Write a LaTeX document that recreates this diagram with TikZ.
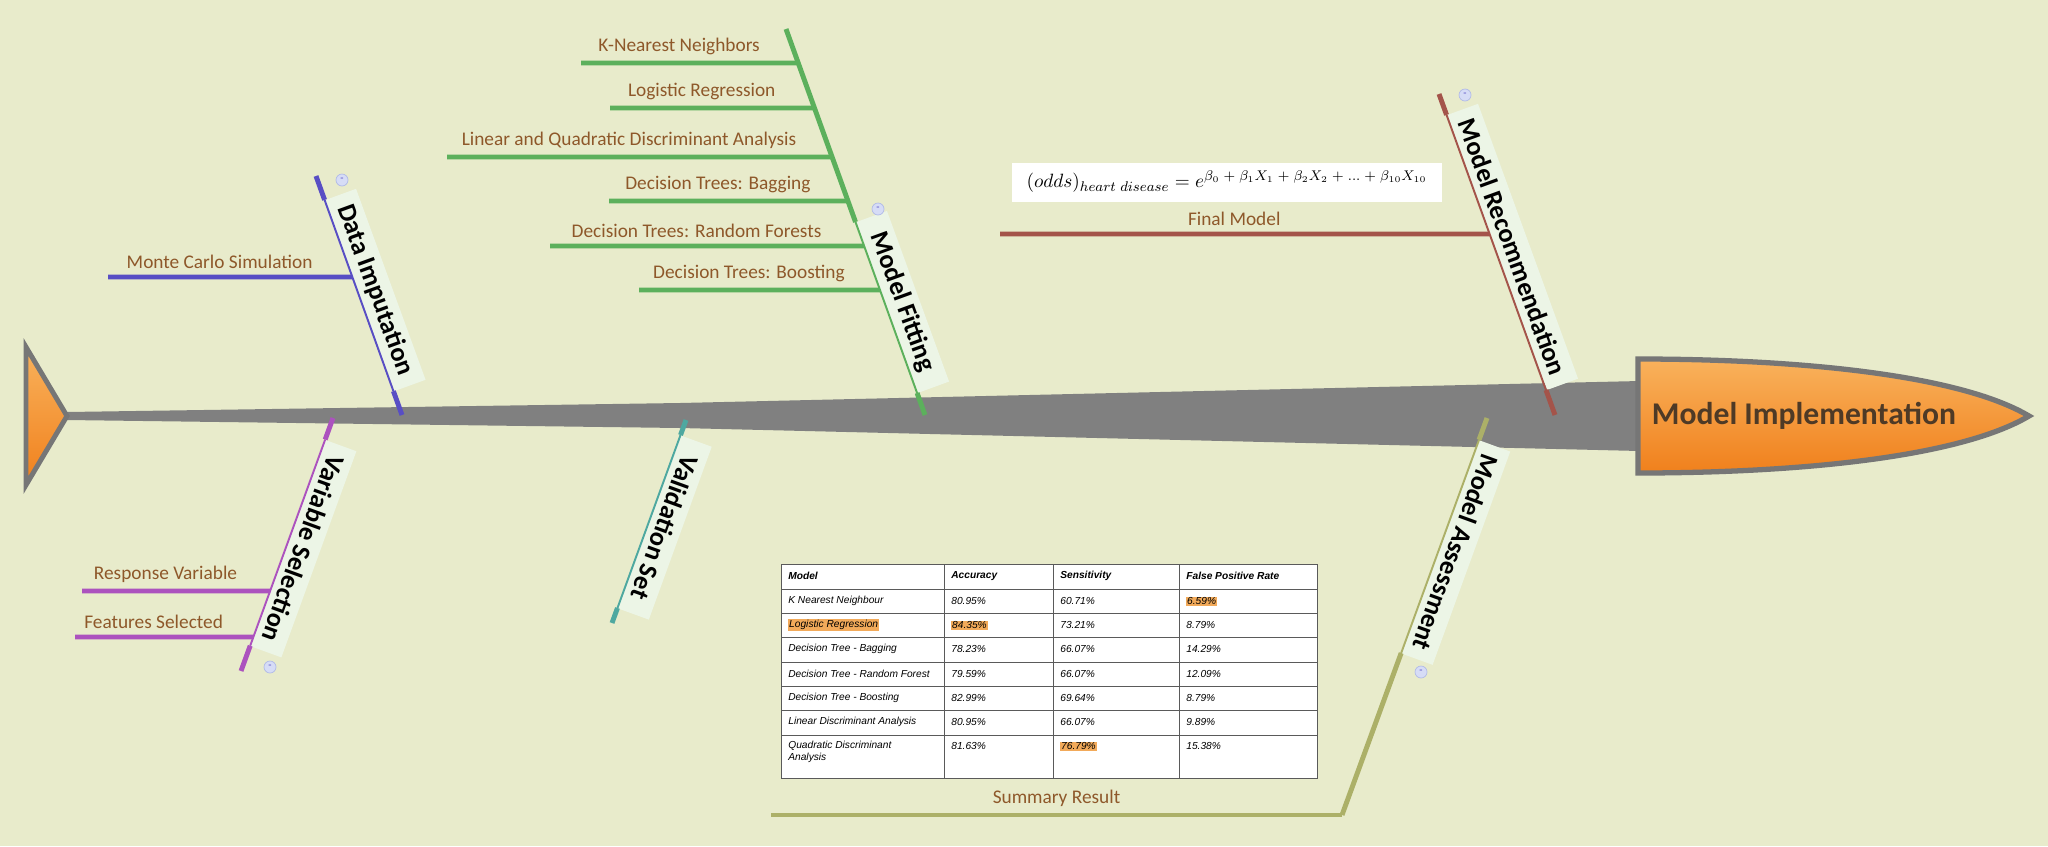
\documentclass[tikz,border=0pt]{standalone}
\usepackage[no-math]{fontspec}
\setmainfont{Carlito}
\newfontfamily\tablefont{Liberation Sans}
\usetikzlibrary{calc}

\definecolor{paper}{RGB}{232,235,203}
\definecolor{spine}{RGB}{128,128,128}
\definecolor{headgray}{RGB}{118,118,118}
\definecolor{headtop}{RGB}{249,178,92}
\definecolor{fishorange}{RGB}{240,128,28}
\definecolor{implement}{RGB}{78,58,38}
\definecolor{dataimp}{RGB}{88,78,196}
\definecolor{varsel}{RGB}{172,82,190}
\definecolor{modfit}{RGB}{92,176,92}
\definecolor{valset}{RGB}{78,168,160}
\definecolor{modrec}{RGB}{164,84,74}
\definecolor{modass}{RGB}{172,176,104}
\definecolor{leaftext}{RGB}{142,88,42}
\definecolor{tag}{RGB}{236,245,230}
\definecolor{knobfill}{RGB}{214,220,246}
\definecolor{knobline}{RGB}{176,186,232}
\definecolor{hilite}{RGB}{242,170,90}
\definecolor{tablegrid}{RGB}{90,90,90}

\newcommand{\marked}[1]{{\setlength{\fboxsep}{0.5pt}\colorbox{hilite}{#1}}}
\newcommand{\plus}{\mskip5mu+\mskip5mu}

\tikzset{
    bone/.style={line width=1.1pt},
    stub/.style={line width=2.8pt},
    twig/.style={line width=2.7pt},
    cause/.style={fill=tag, text=black, font=\bfseries\fontsize{15}{18}\selectfont, minimum height=0.66cm, inner sep=0pt},
    leaf/.style={text=leaftext, font=\fontsize{11}{13}\selectfont},
    knob/.style={circle, fill=knobfill, draw=knobline, line width=0.4pt, minimum size=0.24cm, inner sep=0pt, text=dataimp, font=\fontsize{6}{6}\selectfont},
    cell/.style={anchor=west, inner sep=0pt, font=\tablefont\itshape\fontsize{5.8}{6.8}\selectfont},
    headcell/.style={cell, font=\tablefont\bfseries\itshape\fontsize{5.8}{6.8}\selectfont}
}

\begin{document}
\begin{tikzpicture}[x=0.02cm, y=-0.02cm]
    \useasboundingbox (0,0) rectangle (2048,846);
    \fill[paper] (0,0) rectangle (2048,846);

    \fill[spine] (67,412) -- (680,403) -- (1640,381) -- (1640,451) -- (680,428) -- (67,420) -- cycle;
    \draw[headgray, line width=2.8pt, top color=headtop, bottom color=fishorange] (26,347) -- (67,416) -- (26,485) -- cycle;
    \draw[headgray, line width=3pt, top color=headtop, bottom color=fishorange] (1638,359) .. controls (1800,359) and (1960,375) .. (2029,416) .. controls (1960,457) and (1800,473) .. (1638,473) -- cycle;
    \node[font=\bfseries\fontsize{18}{21}\selectfont, text=implement] (effect) at (1804,416) {Model Implementation};

    \coordinate (imp-top) at (316,176);  \coordinate (imp-bot) at (402,415);
    \coordinate (var-top) at (333,418);  \coordinate (var-bot) at (241,671);
    \coordinate (fit-top) at (786,29);   \coordinate (fit-bot) at (925,415);
    \coordinate (val-top) at (686,420);  \coordinate (val-bot) at (612,623);
    \coordinate (rec-top) at (1439,94);  \coordinate (rec-bot) at (1555,415);
    \coordinate (ass-top) at (1487,418); \coordinate (ass-bot) at (1342,815);

    \foreach \bn/\col/\ang/\lo/\hi/\txt in {imp/dataimp/-70/0.10/0.90/Data Imputation,
        var/varsel/-110/0.085/0.90/Variable Selection, fit/modfit/-70/0.50/0.943/Model Fitting,
        val/valset/-110/0.074/0.926/Validation Set, rec/modrec/-70/0.065/0.922/Model Recommendation,
        ass/modass/-110/0.055/0.592/Model Assessment}{
        \coordinate (\bn-s) at ($(\bn-top)!\lo!(\bn-bot)$);
        \coordinate (\bn-e) at ($(\bn-top)!\hi!(\bn-bot)$);
        \path let \p1 = ($(\bn-e)-(\bn-s)$), \n1 = {veclen(\x1,\y1)} in
            node[cause, rotate=\ang, anchor=south west, minimum width=\n1] (\bn-label) at (\bn-s) {\txt};
        \draw[stub, \col] (\bn-top) -- (\bn-s);
        \draw[bone, \col] (\bn-s) -- (\bn-e);
        \draw[stub, \col] (\bn-e) -- (\bn-bot);
    }

    \foreach \bn/\x/\y in {imp/342/180, fit/878/209, var/270/667, rec/1465/95, ass/1421/672}
        \node[knob] (\bn-knob) at (\x,\y) {-};

    \draw[twig, dataimp] (108,277) -- ($(imp-top)!{(277-176)/239}!(imp-bot)$) node[leaf, midway, above, xshift=-6pt] {Monte Carlo Simulation};
    \foreach \y/\x/\txt in {591/82/Response Variable, 637/75/Features Selected}
        \draw[twig, varsel] (\x,\y) -- ($(var-top)!{(\y-418)/253}!(var-bot)$) node[leaf, midway, above, xshift=-6pt] {\txt};
    \foreach \y/\x/\txt in {63/581/K-Nearest Neighbors, 108/610/Logistic Regression,
        157/447/Linear and Quadratic Discriminant Analysis, 201/609/Decision Trees: Bagging,
        246/550/Decision Trees: Random Forests, 290/639/Decision Trees: Boosting}
        \draw[twig, modfit] (\x,\y) -- ($(fit-top)!{(\y-29)/386}!(fit-bot)$) node[leaf, midway, above, xshift=-6pt] {\txt};
    \draw[twig, modrec] (1000,234) -- ($(rec-top)!{(234-94)/321}!(rec-bot)$) node[leaf, midway, above, xshift=-6pt] {Final Model};
    \draw[twig, modass] (ass-bot) -- (771,815) node[leaf, midway, above] {Summary Result};

    \node[fill=white, minimum width=8.62cm, minimum height=0.78cm, font=\fontsize{11}{13}\selectfont] (odds) at (1227,182)
        {$(odds)_{heart\ disease} = e^{\beta_0 \plus \beta_1X_1 \plus \beta_2X_2 \plus \dots \plus \beta_{10}X_{10}}$};

    \fill[white] (781,564) rectangle (1317,778);
    \draw[tablegrid, line width=0.5pt] (781,564) rectangle (1317,778);
    \foreach \x in {944,1053,1179}
        \draw[tablegrid, line width=0.5pt] (\x,564) -- (\x,778);
    \foreach \y in {589,613,637,662,686,710,735}
        \draw[tablegrid, line width=0.5pt] (781,\y) -- (1317,\y);
    \foreach \x/\txt in {788/Model, 951/Accuracy, 1060/Sensitivity, 1186/False Positive Rate}
        \node[headcell] at (\x,576) {\txt};
    \foreach \y/\m/\a/\s/\f in {601/K Nearest Neighbour/80.95\%/60.71\%/\marked{6.59\%},
        625/\marked{Logistic Regression}/\marked{84.35\%}/73.21\%/8.79\%,
        649/Decision Tree - Bagging/78.23\%/66.07\%/14.29\%,
        674/Decision Tree - Random Forest/79.59\%/66.07\%/12.09\%,
        698/Decision Tree - Boosting/82.99\%/69.64\%/8.79\%,
        722/Linear Discriminant Analysis/80.95\%/66.07\%/9.89\%,
        746/Quadratic Discriminant/81.63\%/\marked{76.79\%}/15.38\%}{
        \node[cell] at (788,\y) {\m};
        \node[cell] at (951,\y) {\a};
        \node[cell] at (1060,\y) {\s};
        \node[cell] at (1186,\y) {\f};
    }
    \node[cell] at (788,758) {Analysis};
\end{tikzpicture}
\end{document}
